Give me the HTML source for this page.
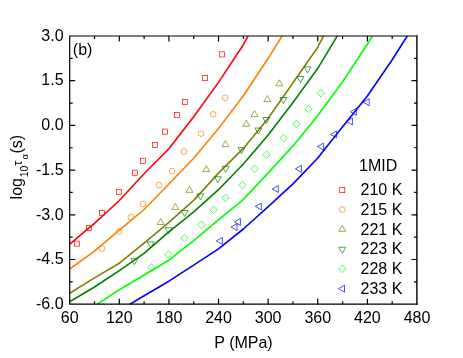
<!DOCTYPE html>
<html><head><meta charset="utf-8"><title>chart</title><style>html,body{margin:0;padding:0;background:#fff}body{width:463px;height:358px;overflow:hidden}svg{display:block;will-change:transform}text{font-family:"Liberation Sans",sans-serif;fill:#000}</style></head><body>
<svg width="463" height="358" viewBox="0 0 463 358">
<rect width="463" height="358" fill="#fff"/>
<defs><clipPath id="c"><rect x="69.7" y="36.0" width="347.3" height="268.2"/></clipPath></defs>
<g clip-path="url(#c)" fill="none" stroke-width="1.6" stroke-linejoin="round">
<path d="M44.9 264.0L69.7 244.2L94.5 223.3L119.3 200.5L144.1 173.7L168.9 148.7L193.7 116.7L218.5 82.4L243.4 44.7L268.2 -1.7" stroke="#ff0000"/>
<path d="M44.9 286.4L69.7 269.0L94.5 251.1L119.3 230.1L144.1 209.5L168.9 184.0L193.7 158.2L218.5 128.5L243.4 95.7L268.2 58.3L293.0 18.4" stroke="#ff8000"/>
<path d="M44.9 307.7L69.7 293.3L94.5 277.9L119.3 263.2L144.1 243.2L168.9 222.3L193.7 200.4L218.5 173.1L243.4 148.4L268.2 118.3L293.0 82.8L317.8 47.2L342.6 -1.9" stroke="#808000"/>
<path d="M44.9 316.0L69.7 301.7L94.5 287.0L119.3 270.6L144.1 253.3L168.9 231.8L193.7 211.9L218.5 189.7L243.4 164.0L268.2 135.0L293.0 102.4L317.8 68.3L342.6 27.1" stroke="#008000"/>
<path d="M94.5 306.0L119.3 289.7L144.1 275.0L168.9 260.2L193.7 240.7L218.5 219.9L243.4 199.4L268.2 172.9L293.0 145.9L317.8 115.5L342.6 81.7L367.4 44.0L392.2 4.4" stroke="#00ff00"/>
<path d="M119.3 310.6L144.1 295.8L168.9 281.2L193.7 265.2L218.5 248.8L243.4 229.0L268.2 206.7L293.0 183.9L317.8 158.0L342.6 126.8L367.4 96.0L392.2 59.8L417.0 20.5" stroke="#0000ff"/>
</g>
<g>
<rect x="74.35" y="241.05" width="5.10" height="5.10" fill="none" stroke="#ff0000" stroke-width="0.7"/>
<rect x="86.45" y="225.45" width="5.10" height="5.10" fill="none" stroke="#ff0000" stroke-width="0.7"/>
<rect x="99.45" y="210.35" width="5.10" height="5.10" fill="none" stroke="#ff0000" stroke-width="0.7"/>
<rect x="116.45" y="189.35" width="5.10" height="5.10" fill="none" stroke="#ff0000" stroke-width="0.7"/>
<rect x="132.35" y="170.15" width="5.10" height="5.10" fill="none" stroke="#ff0000" stroke-width="0.7"/>
<rect x="140.35" y="158.25" width="5.10" height="5.10" fill="none" stroke="#ff0000" stroke-width="0.7"/>
<rect x="152.45" y="142.45" width="5.10" height="5.10" fill="none" stroke="#ff0000" stroke-width="0.7"/>
<rect x="162.45" y="129.05" width="5.10" height="5.10" fill="none" stroke="#ff0000" stroke-width="0.7"/>
<rect x="174.35" y="112.35" width="5.10" height="5.10" fill="none" stroke="#ff0000" stroke-width="0.7"/>
<rect x="182.35" y="99.35" width="5.10" height="5.10" fill="none" stroke="#ff0000" stroke-width="0.7"/>
<rect x="202.55" y="75.45" width="5.10" height="5.10" fill="none" stroke="#ff0000" stroke-width="0.7"/>
<rect x="219.35" y="51.85" width="5.10" height="5.10" fill="none" stroke="#ff0000" stroke-width="0.7"/>
<circle cx="102.00" cy="248.50" r="2.85" fill="none" stroke="#ff8000" stroke-width="0.7"/>
<circle cx="119.10" cy="231.60" r="2.85" fill="none" stroke="#ff8000" stroke-width="0.7"/>
<circle cx="130.90" cy="217.20" r="2.85" fill="none" stroke="#ff8000" stroke-width="0.7"/>
<circle cx="143.00" cy="204.00" r="2.85" fill="none" stroke="#ff8000" stroke-width="0.7"/>
<circle cx="159.10" cy="185.20" r="2.85" fill="none" stroke="#ff8000" stroke-width="0.7"/>
<circle cx="172.20" cy="171.00" r="2.85" fill="none" stroke="#ff8000" stroke-width="0.7"/>
<circle cx="184.00" cy="151.50" r="2.85" fill="none" stroke="#ff8000" stroke-width="0.7"/>
<circle cx="201.00" cy="133.60" r="2.85" fill="none" stroke="#ff8000" stroke-width="0.7"/>
<circle cx="213.10" cy="114.30" r="2.85" fill="none" stroke="#ff8000" stroke-width="0.7"/>
<circle cx="225.20" cy="97.80" r="2.85" fill="none" stroke="#ff8000" stroke-width="0.7"/>
<path d="M157.20 224.50L164.20 224.50L160.70 218.50Z" fill="none" stroke="#808000" stroke-width="0.7"/>
<path d="M171.80 209.40L178.80 209.40L175.30 203.40Z" fill="none" stroke="#808000" stroke-width="0.7"/>
<path d="M186.00 192.30L193.00 192.30L189.50 186.30Z" fill="none" stroke="#808000" stroke-width="0.7"/>
<path d="M202.80 171.60L209.80 171.60L206.30 165.60Z" fill="none" stroke="#808000" stroke-width="0.7"/>
<path d="M221.90 146.70L228.90 146.70L225.40 140.70Z" fill="none" stroke="#808000" stroke-width="0.7"/>
<path d="M242.80 126.20L249.80 126.20L246.30 120.20Z" fill="none" stroke="#808000" stroke-width="0.7"/>
<path d="M251.00 116.60L258.00 116.60L254.50 110.60Z" fill="none" stroke="#808000" stroke-width="0.7"/>
<path d="M263.80 101.50L270.80 101.50L267.30 95.50Z" fill="none" stroke="#808000" stroke-width="0.7"/>
<path d="M275.80 85.80L282.80 85.80L279.30 79.80Z" fill="none" stroke="#808000" stroke-width="0.7"/>
<path d="M130.90 258.60L137.90 258.60L134.40 264.60Z" fill="none" stroke="#008000" stroke-width="0.7"/>
<path d="M147.10 241.90L154.10 241.90L150.60 247.90Z" fill="none" stroke="#008000" stroke-width="0.7"/>
<path d="M165.00 227.70L172.00 227.70L168.50 233.70Z" fill="none" stroke="#008000" stroke-width="0.7"/>
<path d="M181.10 210.50L188.10 210.50L184.60 216.50Z" fill="none" stroke="#008000" stroke-width="0.7"/>
<path d="M197.00 193.90L204.00 193.90L200.50 199.90Z" fill="none" stroke="#008000" stroke-width="0.7"/>
<path d="M214.30 176.80L221.30 176.80L217.80 182.80Z" fill="none" stroke="#008000" stroke-width="0.7"/>
<path d="M222.20 166.30L229.20 166.30L225.70 172.30Z" fill="none" stroke="#008000" stroke-width="0.7"/>
<path d="M238.00 147.60L245.00 147.60L241.50 153.60Z" fill="none" stroke="#008000" stroke-width="0.7"/>
<path d="M254.90 128.00L261.90 128.00L258.40 134.00Z" fill="none" stroke="#008000" stroke-width="0.7"/>
<path d="M262.80 117.50L269.80 117.50L266.30 123.50Z" fill="none" stroke="#008000" stroke-width="0.7"/>
<path d="M279.90 97.50L286.90 97.50L283.40 103.50Z" fill="none" stroke="#008000" stroke-width="0.7"/>
<path d="M297.00 76.50L304.00 76.50L300.50 82.50Z" fill="none" stroke="#008000" stroke-width="0.7"/>
<path d="M304.10 66.80L311.10 66.80L307.60 72.80Z" fill="none" stroke="#008000" stroke-width="0.7"/>
<path d="M147.65 267.40L151.40 263.65L155.15 267.40L151.40 271.15Z" fill="none" stroke="#00ff00" stroke-width="0.7"/>
<path d="M164.75 254.40L168.50 250.65L172.25 254.40L168.50 258.15Z" fill="none" stroke="#00ff00" stroke-width="0.7"/>
<path d="M180.75 238.20L184.50 234.45L188.25 238.20L184.50 241.95Z" fill="none" stroke="#00ff00" stroke-width="0.7"/>
<path d="M197.65 224.90L201.40 221.15L205.15 224.90L201.40 228.65Z" fill="none" stroke="#00ff00" stroke-width="0.7"/>
<path d="M209.85 209.80L213.60 206.05L217.35 209.80L213.60 213.55Z" fill="none" stroke="#00ff00" stroke-width="0.7"/>
<path d="M221.85 198.00L225.60 194.25L229.35 198.00L225.60 201.75Z" fill="none" stroke="#00ff00" stroke-width="0.7"/>
<path d="M238.75 185.10L242.50 181.35L246.25 185.10L242.50 188.85Z" fill="none" stroke="#00ff00" stroke-width="0.7"/>
<path d="M250.85 168.90L254.60 165.15L258.35 168.90L254.60 172.65Z" fill="none" stroke="#00ff00" stroke-width="0.7"/>
<path d="M262.85 154.70L266.60 150.95L270.35 154.70L266.60 158.45Z" fill="none" stroke="#00ff00" stroke-width="0.7"/>
<path d="M279.75 138.20L283.50 134.45L287.25 138.20L283.50 141.95Z" fill="none" stroke="#00ff00" stroke-width="0.7"/>
<path d="M292.65 124.00L296.40 120.25L300.15 124.00L296.40 127.75Z" fill="none" stroke="#00ff00" stroke-width="0.7"/>
<path d="M304.75 109.00L308.50 105.25L312.25 109.00L308.50 112.75Z" fill="none" stroke="#00ff00" stroke-width="0.7"/>
<path d="M317.15 93.20L320.90 89.45L324.65 93.20L320.90 96.95Z" fill="none" stroke="#00ff00" stroke-width="0.7"/>
<path d="M222.40 237.40L222.40 244.40L216.40 240.90Z" fill="none" stroke="#0000ff" stroke-width="0.7"/>
<path d="M237.00 223.60L237.00 230.60L231.00 227.10Z" fill="none" stroke="#0000ff" stroke-width="0.7"/>
<path d="M240.40 218.40L240.40 225.40L234.40 221.90Z" fill="none" stroke="#0000ff" stroke-width="0.7"/>
<path d="M261.30 202.90L261.30 209.90L255.30 206.40Z" fill="none" stroke="#0000ff" stroke-width="0.7"/>
<path d="M278.30 185.50L278.30 192.50L272.30 189.00Z" fill="none" stroke="#0000ff" stroke-width="0.7"/>
<path d="M301.40 165.40L301.40 172.40L295.40 168.90Z" fill="none" stroke="#0000ff" stroke-width="0.7"/>
<path d="M323.40 143.10L323.40 150.10L317.40 146.60Z" fill="none" stroke="#0000ff" stroke-width="0.7"/>
<path d="M336.60 130.90L336.60 137.90L330.60 134.40Z" fill="none" stroke="#0000ff" stroke-width="0.7"/>
<path d="M352.40 117.90L352.40 124.90L346.40 121.40Z" fill="none" stroke="#0000ff" stroke-width="0.7"/>
<path d="M356.40 108.30L356.40 115.30L350.40 111.80Z" fill="none" stroke="#0000ff" stroke-width="0.7"/>
<path d="M369.20 98.80L369.20 105.80L363.20 102.30Z" fill="none" stroke="#0000ff" stroke-width="0.7"/>
</g>
<g stroke="#000" stroke-width="1.2" fill="none" stroke-linecap="butt">
<path d="M69.10000000000001 36.0H417.6M69.10000000000001 304.2H417.6M69.7 36.0V304.2"/>
<path d="M416.9 35.5V304.8" stroke-width="1.4"/>
<path d="M94.51 304.2V301.2M94.51 36.0V39.0"/>
<path d="M119.31 304.2V298.7M119.31 36.0V41.5"/>
<path d="M144.12 304.2V301.2M144.12 36.0V39.0"/>
<path d="M168.93 304.2V298.7M168.93 36.0V41.5"/>
<path d="M193.74 304.2V301.2M193.74 36.0V39.0"/>
<path d="M218.54 304.2V298.7M218.54 36.0V41.5"/>
<path d="M243.35 304.2V301.2M243.35 36.0V39.0"/>
<path d="M268.16 304.2V298.7M268.16 36.0V41.5"/>
<path d="M292.96 304.2V301.2M292.96 36.0V39.0"/>
<path d="M317.77 304.2V298.7M317.77 36.0V41.5"/>
<path d="M342.58 304.2V301.2M342.58 36.0V39.0"/>
<path d="M367.39 304.2V298.7M367.39 36.0V41.5"/>
<path d="M392.19 304.2V301.2M392.19 36.0V39.0"/>
<path d="M69.7 58.35H72.7M417.0 58.35H414.0"/>
<path d="M69.7 80.70H75.2M417.0 80.70H411.5"/>
<path d="M69.7 103.05H72.7M417.0 103.05H414.0"/>
<path d="M69.7 125.40H75.2M417.0 125.40H411.5"/>
<path d="M69.7 147.75H72.7M417.0 147.75H414.0"/>
<path d="M69.7 170.10H75.2M417.0 170.10H411.5"/>
<path d="M69.7 192.45H72.7M417.0 192.45H414.0"/>
<path d="M69.7 214.80H75.2M417.0 214.80H411.5"/>
<path d="M69.7 237.15H72.7M417.0 237.15H414.0"/>
<path d="M69.7 259.50H75.2M417.0 259.50H411.5"/>
<path d="M69.7 281.85H72.7M417.0 281.85H414.0"/>
</g>
<g font-size="16">
<text x="69.70" y="322.7" text-anchor="middle">60</text>
<text x="119.31" y="322.7" text-anchor="middle">120</text>
<text x="168.93" y="322.7" text-anchor="middle">180</text>
<text x="218.54" y="322.7" text-anchor="middle">240</text>
<text x="268.16" y="322.7" text-anchor="middle">300</text>
<text x="317.77" y="322.7" text-anchor="middle">360</text>
<text x="367.39" y="322.7" text-anchor="middle">420</text>
<text x="417.00" y="322.7" text-anchor="middle">480</text>
<text x="63.6" y="40.70" text-anchor="end">3.0</text>
<text x="63.6" y="85.40" text-anchor="end">1.5</text>
<text x="63.6" y="130.10" text-anchor="end">0.0</text>
<text x="63.6" y="174.80" text-anchor="end">-1.5</text>
<text x="63.6" y="219.50" text-anchor="end">-3.0</text>
<text x="63.6" y="264.20" text-anchor="end">-4.5</text>
<text x="63.6" y="308.90" text-anchor="end">-6.0</text>
</g>
<text x="72.8" y="54.6" font-size="16">(b)</text>
<text x="243.5" y="347.9" font-size="16" text-anchor="middle">P (MPa)</text>
<g transform="rotate(-90)">
<text x="-199.4" y="22.0" font-size="16">log</text>
<text x="-177.3" y="28.2" font-size="10.5">10</text>
<text x="-165.8" y="22.0" font-size="13">τ</text>
<text x="-159.4" y="28.2" font-size="9.5">α</text>
<text x="-153.6" y="22.0" font-size="16">(s)</text>
</g>
<g font-size="16">
<text x="359" y="170.7">1MID</text>
<text x="360.5" y="195.4">210 K</text>
<text x="360.5" y="215.0">215 K</text>
<text x="360.5" y="234.7">221 K</text>
<text x="360.5" y="254.4">223 K</text>
<text x="360.5" y="274.0">228 K</text>
<text x="360.5" y="293.6">233 K</text>
</g>
<rect x="339.65" y="187.55" width="5.10" height="5.10" fill="none" stroke="#ff0000" stroke-width="0.7"/>
<circle cx="342.20" cy="209.60" r="2.85" fill="none" stroke="#ff8000" stroke-width="0.7"/>
<path d="M338.80 231.30L345.80 231.30L342.30 225.30Z" fill="none" stroke="#808000" stroke-width="0.7"/>
<path d="M338.85 247.30L345.85 247.30L342.35 253.30Z" fill="none" stroke="#008000" stroke-width="0.7"/>
<path d="M338.55 268.90L342.30 265.15L346.05 268.90L342.30 272.65Z" fill="none" stroke="#00ff00" stroke-width="0.7"/>
<path d="M344.50 285.20L344.50 292.20L338.50 288.70Z" fill="none" stroke="#0000ff" stroke-width="0.7"/>
</svg></body></html>
